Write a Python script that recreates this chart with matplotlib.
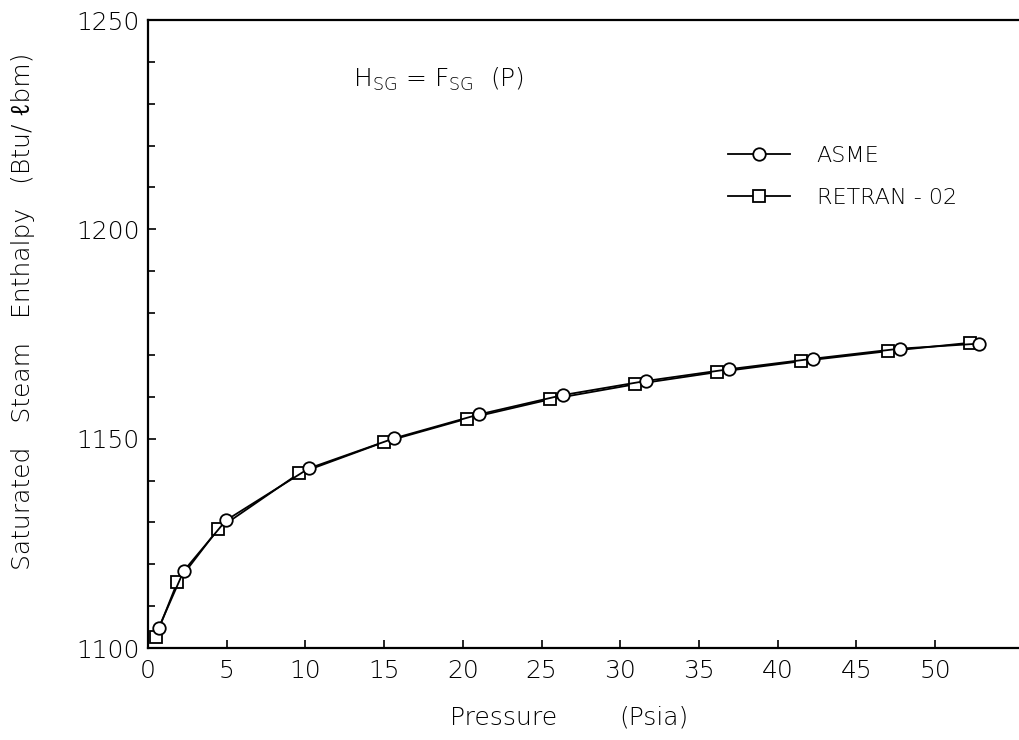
import matplotlib
matplotlib.use("Agg")
import matplotlib.pyplot as plt
from matplotlib import font_manager
from matplotlib.ticker import MultipleLocator

# Saturated steam enthalpy vs pressure
asme_p = [0.68, 2.27, 4.96, 10.22, 15.65, 21.04, 26.34, 31.66, 36.94, 42.26, 47.77, 52.8]
asme_h = [1104.8, 1118.4, 1130.5, 1142.9, 1150.1, 1155.8, 1160.4, 1163.8, 1166.6, 1169.1, 1171.5, 1172.7]

retran_p = [0.49, 1.86, 4.45, 9.59, 15.01, 20.29, 25.55, 30.96, 36.17, 41.49, 47.01, 52.21]
retran_h = [1102.7, 1115.7, 1128.4, 1141.7, 1149.2, 1154.8, 1159.4, 1163.0, 1165.9, 1168.5, 1170.9, 1172.9]

x_ticks = [0, 5, 10, 15, 20, 25, 30, 35, 40, 45, 50]
y_ticks = [1100, 1150, 1200, 1250]

# pick a thin-stroked face for the plotter-style lettering
thin_family, thin_weight = "DejaVu Sans", "normal"
available = {(f.name, f.weight) for f in font_manager.fontManager.ttflist}
for fam in ("DejaVu Sans", "Open Sans", "Roboto", "Lato", "Noto Sans"):
    light = sorted(w for (n, w) in available
                   if n == fam and isinstance(w, int) and w < 400)
    if light:
        thin_family, thin_weight = fam, light[-1]
        break

plt.rcParams["font.family"] = [thin_family, "DejaVu Sans"]
plt.rcParams["font.weight"] = thin_weight
plt.rcParams["mathtext.fontset"] = "custom"
plt.rcParams["mathtext.rm"] = thin_family

fig = plt.figure(figsize=(10.2, 7.4), dpi=100)
ax = fig.add_axes([148 / 1020, 1 - 648 / 740, 1 - 148 / 1020, (648 - 20) / 740])

ax.plot(asme_p, asme_h, color="black", lw=1.3, marker="o", ms=9,
        mfc="white", mec="black", mew=1.3, label="ASME", zorder=3)
ax.plot(retran_p, retran_h, color="black", lw=1.3, marker="s", ms=8,
        mfc="white", mec="black", mew=1.3, label="RETRAN - 02", zorder=2)

ax.set_xlim(0, 55.4)
ax.set_ylim(1100, 1250)
ax.set_xticks(x_ticks)
ax.set_yticks(y_ticks)
ax.yaxis.set_minor_locator(MultipleLocator(10))

for side in ("left", "bottom", "top"):
    ax.spines[side].set_linewidth(1.6)
ax.spines["right"].set_visible(False)

ax.tick_params(axis="both", which="major", direction="in", length=6, width=1.2,
               labelsize=18, colors="black")
ax.tick_params(axis="y", which="minor", direction="in", length=5, width=1.2)
ax.tick_params(axis="x", pad=8)
ax.tick_params(axis="y", pad=6)

ax.text(0.235, 0.905, r"$\mathregular{H_{SG}}$ = $\mathregular{F_{SG}}$  (P)",
        transform=ax.transAxes, fontsize=18, ha="left", va="center")

ax.legend(loc="upper left", bbox_to_anchor=(0.665, 0.80), frameon=False,
          fontsize=16, handlelength=2.8, handletextpad=1.2, labelspacing=1.0,
          borderpad=0, borderaxespad=0)

# the script-l in the unit needs a face that carries U+2113
fig.text(23 / 1020, 1 - 311 / 740, "Saturated   Steam   Enthalpy   (Btu/ ℓbm)",
         rotation=90, ha="center", va="center", fontsize=18,
         family=[thin_family, "Noto Sans", "Liberation Sans"])
fig.text(504 / 1020, 1 - 718 / 740, "Pressure", ha="center", va="center", fontsize=18)
fig.text(654 / 1020, 1 - 718 / 740, "(Psia)", ha="center", va="center", fontsize=18)

fig.savefig("out.png", dpi=100, facecolor="white")
